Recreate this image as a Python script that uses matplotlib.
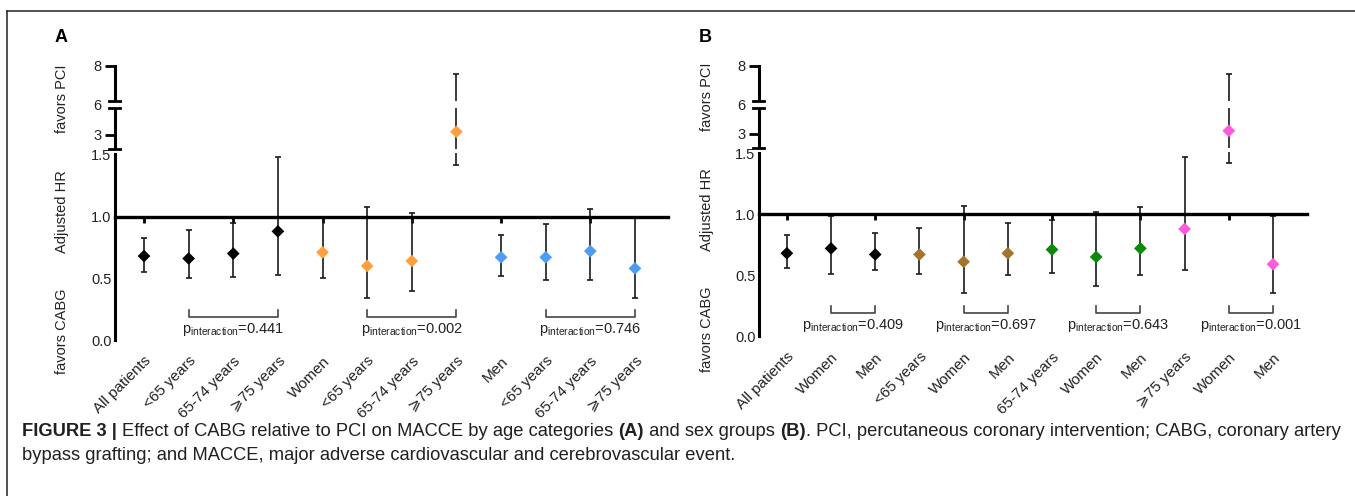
import numpy as np
import matplotlib
matplotlib.use('Agg')
import matplotlib.pyplot as plt
from matplotlib.lines import Line2D
from matplotlib.patches import Rectangle

plt.rcParams['font.family'] = ['Liberation Sans', 'DejaVu Sans']
plt.rcParams['mathtext.fontset'] = 'custom'
plt.rcParams['mathtext.rm'] = 'Liberation Sans'
plt.rcParams['mathtext.it'] = 'Liberation Sans:italic'
plt.rcParams['mathtext.bf'] = 'Liberation Sans:bold'

# ---- data ----
labels_a = ['All patients', '<65 years', '65-74 years', '⩾75 years', 'Women', '<65 years',
            '65-74 years', '⩾75 years', 'Men', '<65 years', '65-74 years', '⩾75 years']
hr_a = [0.68, 0.66, 0.70, 0.88, 0.71, 0.60, 0.64, 3.30, 0.67, 0.67, 0.72, 0.58]
lo_a = [0.55, 0.50, 0.51, 0.53, 0.50, 0.34, 0.40, 1.42, 0.52, 0.49, 0.49, 0.34]
hi_a = [0.83, 0.89, 0.95, 1.48, 0.99, 1.08, 1.03, 7.55, 0.85, 0.94, 1.06, 0.99]
groups_a = ['all', 'all', 'all', 'all', 'women', 'women', 'women', 'women',
            'men', 'men', 'men', 'men']
p_a = [(1, 3, '0.441'), (5, 7, '0.002'), (9, 11, '0.746')]

labels_b = ['All patients', 'Women', 'Men', '<65 years', 'Women', 'Men',
            '65-74 years', 'Women', 'Men', '⩾75 years', 'Women', 'Men']
hr_b = [0.68, 0.72, 0.67, 0.67, 0.61, 0.68, 0.71, 0.65, 0.72, 0.88, 3.30, 0.59]
lo_b = [0.56, 0.51, 0.54, 0.51, 0.35, 0.50, 0.52, 0.41, 0.50, 0.54, 1.42, 0.35]
hi_b = [0.83, 0.99, 0.85, 0.89, 1.07, 0.93, 0.95, 1.02, 1.06, 1.47, 7.55, 0.99]
groups_b = ['all', 'all', 'all', 'lt65', 'lt65', 'lt65', 'mid', 'mid', 'mid',
            'old', 'old', 'old']
p_b = [(1, 2, '0.409'), (4, 5, '0.697'), (7, 8, '0.643'), (10, 11, '0.001')]

COLORS = {'all': 'black', 'women': '#FFA040', 'men': '#4F9CF2',
          'lt65': '#A5742C', 'mid': '#0A8A0A', 'old': '#FF5AD9'}

# broken y axis: piecewise linear scale
Y_KNOTS = [0, 1.5, 3, 6, 8]
Y_POS = [0, 185, 205, 235, 274]


def fwd(v):
    return np.interp(v, Y_KNOTS, Y_POS)


def inv(h):
    return np.interp(h, Y_POS, Y_KNOTS)


W, H = 1355, 496
fig = plt.figure(figsize=(W / 100, H / 100), dpi=100)
TXT = '#222222'


def panel(rect, labels, hr, lo, hi, groups, pvals, left_pad, right_pad):
    ax = fig.add_axes(rect)
    x = np.arange(len(labels))
    hr = np.array(hr)
    ax.set_yscale('function', functions=(fwd, inv))
    ax.set_ylim(0, 8)
    ax.set_xlim(-left_pad, len(labels) - 1 + right_pad)

    ax.errorbar(x, hr, yerr=[hr - np.array(lo), np.array(hi) - hr], fmt='none',
                ecolor='#1a1a1a', elinewidth=1.2, capsize=2.5, capthick=1.2, zorder=2)
    ax.scatter(x, hr, marker='D', s=42, c=[COLORS[g] for g in groups],
               linewidths=0, zorder=4)

    for s in ['top', 'right']:
        ax.spines[s].set_visible(False)
    ax.spines['left'].set_linewidth(2.2)
    ax.spines['bottom'].set_position(('data', 1.0))
    ax.spines['bottom'].set_linewidth(2.4)
    ax.tick_params(axis='x', direction='out', length=4, width=2, labelbottom=False)

    yt = [0, 0.5, 1.0, 1.5, 3, 6, 8]
    ax.set_yticks(yt, ['0.0', '0.5', '1.0', '1.5', '3', '6', '8'])
    ax.tick_params(axis='y', length=7.5, width=2, pad=2, labelsize=10.5, labelcolor=TXT)
    for t, v in zip(ax.yaxis.get_major_ticks(), yt):
        if v == 6:
            t.tick1line.set_visible(False)
        elif v not in (3, 8):
            t.tick1line.set_visible(False)
            t.set_pad(-5)

    # category labels under the plot
    sec = ax.secondary_xaxis('bottom')
    sec.set_xticks(x, labels, rotation=45, ha='right', rotation_mode='anchor')
    sec.tick_params(length=0, pad=10, labelsize=11, labelcolor=TXT)
    sec.spines['bottom'].set_visible(False)

    # axis breaks
    ytr = ax.get_yaxis_transform()
    for h1, h2, marks in [(187.0, 190.5, [190.5]), (231.5, 238.5, [231.5, 238.5])]:
        y1, y2 = inv(h1), inv(h2)
        ax.add_patch(Rectangle((-0.007, y1), 1.007, y2 - y1, transform=ytr,
                               facecolor='white', edgecolor='none', zorder=5, clip_on=False))
        for hm in marks:
            yy = inv(hm)
            ax.add_line(Line2D([-0.011, 0.009], [yy, yy], transform=ytr, color='black',
                               lw=2, zorder=6, clip_on=False))

    # interaction brackets
    for a, b, p in pvals:
        ax.plot([a, a, b, b], [0.245, 0.187, 0.187, 0.245], color='#444444', lw=1.2)
        ax.text((a + b) / 2, 0.085, r'p$_{\mathrm{interaction}}$=' + p, ha='center',
                va='center', fontsize=10.5, color=TXT)
    return ax


ax_a = panel([115 / W, 1 - 340 / H, 553 / W, 274.3 / H], labels_a, hr_a, lo_a, hi_a,
             groups_a, p_a, 0.65, 0.74)
ax_b = panel([759 / W, 1 - 336 / H, 548 / W, 270.3 / H], labels_b, hr_b, lo_b, hi_b,
             groups_b, p_b, 0.63, 0.77)

# y axis titles
for x0, dy in [(62, 0), (707, -2)]:
    fig.text(x0 / W, 1 - (99 + dy) / H, 'favors PCI', rotation=90, ha='center',
             va='center', fontsize=10.5, color=TXT)
    fig.text(x0 / W, 1 - (212 + dy) / H, 'Adjusted HR', rotation=90, ha='center',
             va='center', fontsize=10.5, color=TXT)
    fig.text(x0 / W, 1 - (331 + dy) / H, 'favors CABG', rotation=90, ha='center',
             va='center', fontsize=10.5, color=TXT)

fig.text(61 / W, 1 - 38 / H, 'A', fontsize=13, fontweight='bold', ha='center', va='center')
fig.text(705 / W, 1 - 38 / H, 'B', fontsize=13, fontweight='bold', ha='center', va='center')

# frame lines
fig.add_artist(Line2D([7 / W, 1], [1 - 11 / H, 1 - 11 / H], color='#222222', lw=1.1))
fig.add_artist(Line2D([7 / W, 7 / W], [0, 1 - 11 / H], color='#222222', lw=1.1))

# caption, built from bold / regular pieces
cap1 = [('FIGURE 3 | ', 'bold'),
        ('Effect of CABG relative to PCI on MACCE by age categories ', 'normal'),
        ('(A)', 'bold'), (' and sex groups ', 'normal'), ('(B)', 'bold'),
        ('. PCI, percutaneous coronary intervention; CABG, coronary artery', 'normal')]
cap2 = [('bypass grafting; and MACCE, major adverse cardiovascular and cerebrovascular event.',
         'normal')]
renderer = fig.canvas.get_renderer()
for line, ycap in [(cap1, 431), (cap2, 456)]:
    xpos = 22 / W
    for txt, wt in line:
        t = fig.text(xpos, 1 - ycap / H, txt, fontsize=13.2, fontweight=wt, color='#231F20',
                     ha='left', va='center')
        bb = t.get_window_extent(renderer)
        xpos = bb.x1 / W

fig.savefig('out.png', dpi=100)
